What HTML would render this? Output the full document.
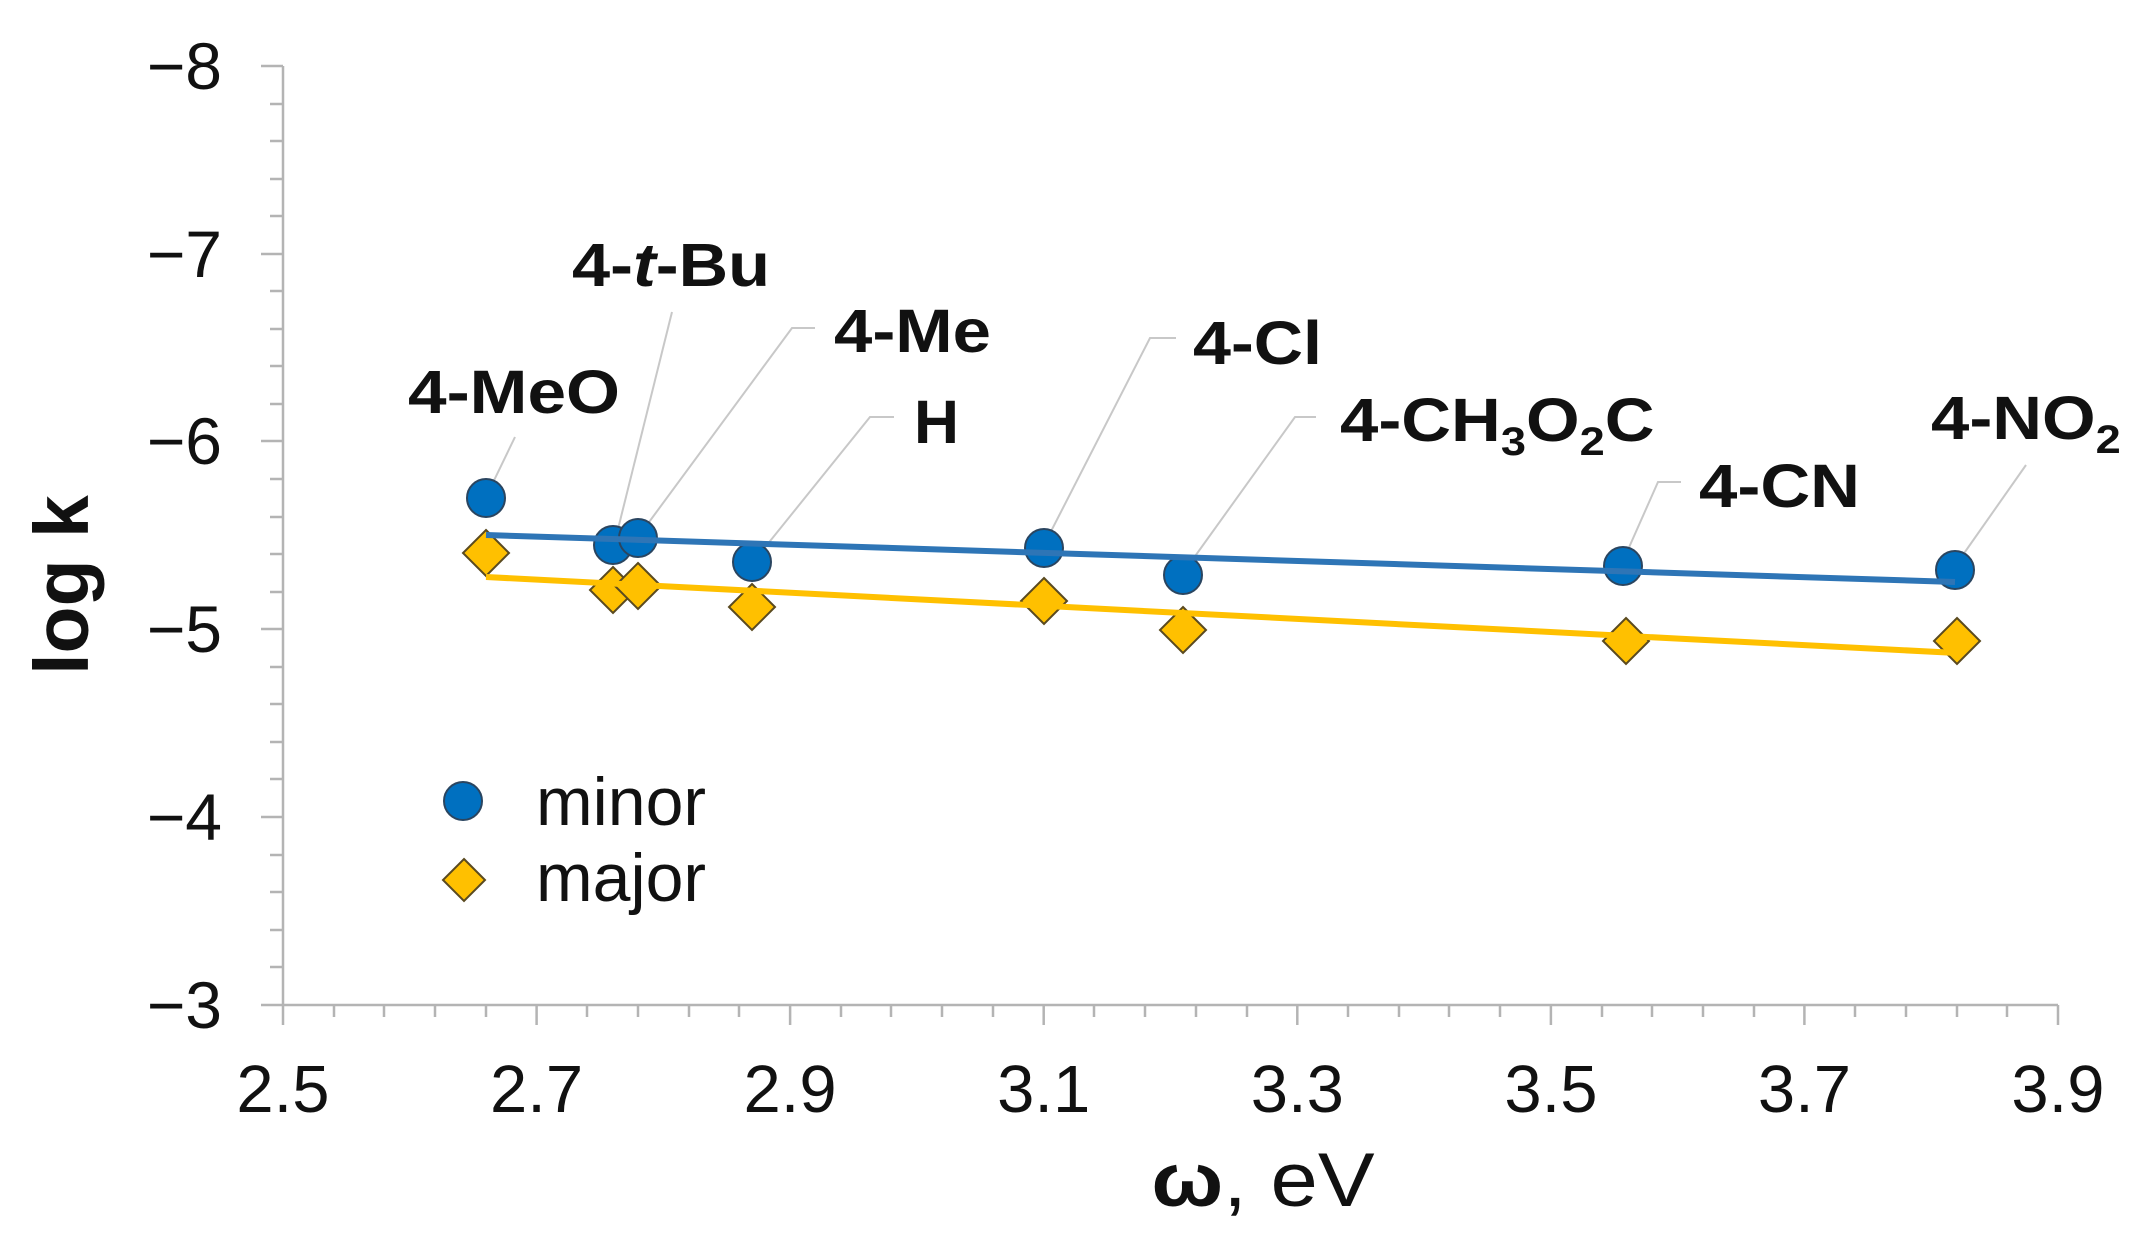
<!DOCTYPE html>
<html><head><meta charset="utf-8"><style>html,body{margin:0;padding:0;background:#fff}svg{display:block}</style></head>
<body>
<svg width="2141" height="1256" viewBox="0 0 2141 1256" xmlns="http://www.w3.org/2000/svg" font-family="Liberation Sans, Arial, sans-serif">
<g stroke="#b4b4b4" stroke-width="2.5" fill="none">
<line x1="283" y1="66" x2="283" y2="1005"/>
<line x1="283" y1="1005" x2="2058" y2="1005"/>
<line x1="261" y1="66" x2="283" y2="66"/><line x1="261" y1="254" x2="283" y2="254"/><line x1="261" y1="441" x2="283" y2="441"/><line x1="261" y1="629" x2="283" y2="629"/><line x1="261" y1="817" x2="283" y2="817"/><line x1="261" y1="1005" x2="283" y2="1005"/>
<line x1="270" y1="104" x2="283" y2="104"/><line x1="270" y1="141" x2="283" y2="141"/><line x1="270" y1="179" x2="283" y2="179"/><line x1="270" y1="216" x2="283" y2="216"/>
<line x1="270" y1="291" x2="283" y2="291"/><line x1="270" y1="329" x2="283" y2="329"/><line x1="270" y1="366" x2="283" y2="366"/><line x1="270" y1="404" x2="283" y2="404"/>
<line x1="270" y1="479" x2="283" y2="479"/><line x1="270" y1="517" x2="283" y2="517"/><line x1="270" y1="554" x2="283" y2="554"/><line x1="270" y1="592" x2="283" y2="592"/>
<line x1="270" y1="667" x2="283" y2="667"/><line x1="270" y1="704" x2="283" y2="704"/><line x1="270" y1="742" x2="283" y2="742"/><line x1="270" y1="779" x2="283" y2="779"/>
<line x1="270" y1="855" x2="283" y2="855"/><line x1="270" y1="892" x2="283" y2="892"/><line x1="270" y1="930" x2="283" y2="930"/><line x1="270" y1="967" x2="283" y2="967"/>
<line x1="283" y1="1005" x2="283" y2="1025"/><line x1="536.6" y1="1005" x2="536.6" y2="1025"/><line x1="790.1" y1="1005" x2="790.1" y2="1025"/><line x1="1043.7" y1="1005" x2="1043.7" y2="1025"/><line x1="1297.3" y1="1005" x2="1297.3" y2="1025"/><line x1="1550.9" y1="1005" x2="1550.9" y2="1025"/><line x1="1804.4" y1="1005" x2="1804.4" y2="1025"/><line x1="2058" y1="1005" x2="2058" y2="1025"/>
<line x1="334" y1="1005" x2="334" y2="1017"/><line x1="384" y1="1005" x2="384" y2="1017"/><line x1="435" y1="1005" x2="435" y2="1017"/><line x1="486" y1="1005" x2="486" y2="1017"/>
<line x1="587" y1="1005" x2="587" y2="1017"/><line x1="638" y1="1005" x2="638" y2="1017"/><line x1="689" y1="1005" x2="689" y2="1017"/><line x1="739" y1="1005" x2="739" y2="1017"/>
<line x1="841" y1="1005" x2="841" y2="1017"/><line x1="891" y1="1005" x2="891" y2="1017"/><line x1="942" y1="1005" x2="942" y2="1017"/><line x1="993" y1="1005" x2="993" y2="1017"/>
<line x1="1094" y1="1005" x2="1094" y2="1017"/><line x1="1145" y1="1005" x2="1145" y2="1017"/><line x1="1196" y1="1005" x2="1196" y2="1017"/><line x1="1247" y1="1005" x2="1247" y2="1017"/>
<line x1="1348" y1="1005" x2="1348" y2="1017"/><line x1="1399" y1="1005" x2="1399" y2="1017"/><line x1="1449" y1="1005" x2="1449" y2="1017"/><line x1="1500" y1="1005" x2="1500" y2="1017"/>
<line x1="1602" y1="1005" x2="1602" y2="1017"/><line x1="1652" y1="1005" x2="1652" y2="1017"/><line x1="1703" y1="1005" x2="1703" y2="1017"/><line x1="1754" y1="1005" x2="1754" y2="1017"/>
<line x1="1855" y1="1005" x2="1855" y2="1017"/><line x1="1906" y1="1005" x2="1906" y2="1017"/><line x1="1957" y1="1005" x2="1957" y2="1017"/><line x1="2007" y1="1005" x2="2007" y2="1017"/>
</g>
<g font-size="66" fill="#111" text-anchor="end">
<text x="222" y="89">−8</text><text x="222" y="277">−7</text><text x="222" y="464">−6</text><text x="222" y="652">−5</text><text x="222" y="840">−4</text><text x="222" y="1028">−3</text>
</g>
<g font-size="67" fill="#111" text-anchor="middle">
<text x="283" y="1112">2.5</text><text x="536.6" y="1112">2.7</text><text x="790.1" y="1112">2.9</text><text x="1043.7" y="1112">3.1</text><text x="1297.3" y="1112">3.3</text><text x="1550.9" y="1112">3.5</text><text x="1804.4" y="1112">3.7</text><text x="2058" y="1112">3.9</text>
</g>
<text transform="translate(1263,1206) scale(1.12,1)" font-size="76" text-anchor="middle" fill="#111"><tspan font-weight="bold">ω</tspan>, eV</text>
<text transform="translate(88,585) rotate(-90)" font-size="77" font-weight="bold" text-anchor="middle" fill="#111">log k</text>
<g stroke="#c8c8c8" stroke-width="2" fill="none">
<polyline points="515,437 486,497"/>
<polyline points="672,312 618,529"/>
<polyline points="815,328 792,328 641,533"/>
<polyline points="894,417 870,417 754,561"/>
<polyline points="1176,338 1150,338 1044,545"/>
<polyline points="1316,417 1295,417 1183,573"/>
<polyline points="1681,482 1658,482 1623,561"/>
<polyline points="2026,465 1953,569"/>
</g>
<g fill="#0070c0" stroke="#2a4560" stroke-width="2">
<circle cx="486" cy="498" r="19"/><circle cx="613" cy="545" r="19"/><circle cx="638" cy="538" r="19"/><circle cx="752" cy="562" r="19"/><circle cx="1044" cy="548" r="19"/><circle cx="1183" cy="575" r="19"/><circle cx="1623" cy="566" r="19"/><circle cx="1955" cy="570" r="19"/>
</g>
<g fill="#ffc000" stroke="#5a4a20" stroke-width="2">
<polygon points="486,530 509,553 486,576 463,553"/>
<polygon points="613,567 636,590 613,613 590,590"/>
<polygon points="638,563 661,586 638,609 615,586"/>
<polygon points="752,584 775,607 752,630 729,607"/>
<polygon points="1044,578 1067,601 1044,624 1021,601"/>
<polygon points="1183,607 1206,630 1183,653 1160,630"/>
<polygon points="1626,618 1649,641 1626,664 1603,641"/>
<polygon points="1957,618 1980,641 1957,664 1934,641"/>
</g>
<line x1="486" y1="535" x2="1955" y2="582" stroke="#2e75b6" stroke-width="6"/>
<line x1="486" y1="577" x2="1957" y2="653" stroke="#ffc000" stroke-width="6"/>
<g font-size="61" font-weight="bold" fill="#111">
<text x="408" y="413" textLength="212" lengthAdjust="spacingAndGlyphs">4-MeO</text>
<text x="572" y="286" textLength="198" lengthAdjust="spacingAndGlyphs">4-<tspan font-style="italic">t</tspan>-Bu</text>
<text x="834" y="352" textLength="157" lengthAdjust="spacingAndGlyphs">4-Me</text>
<text x="914" y="443" textLength="45" lengthAdjust="spacingAndGlyphs">H</text>
<text x="1193" y="364" textLength="129" lengthAdjust="spacingAndGlyphs">4-Cl</text>
<text transform="translate(1340,441) scale(1.13,1)">4-CH<tspan font-size="40" dy="14">3</tspan><tspan dy="-14">O</tspan><tspan font-size="40" dy="14">2</tspan><tspan dy="-14">C</tspan></text>
<text x="1699" y="507" textLength="161" lengthAdjust="spacingAndGlyphs">4-CN</text>
<text transform="translate(1931,439) scale(1.13,1)">4-NO<tspan font-size="40" dy="14">2</tspan></text>
</g>
<circle cx="463" cy="801" r="19" fill="#0070c0" stroke="#2a4560" stroke-width="2"/>
<polygon points="464,859 485,880 464,901 443,880" fill="#ffc000" stroke="#5a4a20" stroke-width="2"/>
<g font-size="68" fill="#111">
<text x="536" y="825">minor</text>
<text x="536" y="901">major</text>
</g>
</svg>
</body></html>
